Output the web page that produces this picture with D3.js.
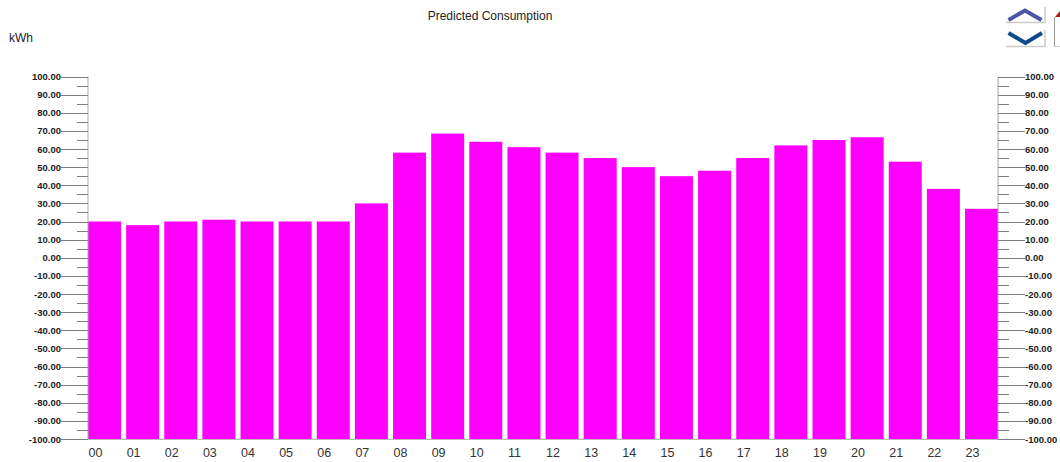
<!DOCTYPE html>
<html lang="en">
<head>
<meta charset="UTF-8">
<title>Predicted Consumption</title>
<script src="https://d3js.org/d3.v7.min.js"></script>
<style>
    body { margin: 0; background: #fff; overflow: hidden; }
    svg { display: block; font-family: "Liberation Sans", Arial, sans-serif; }
    .tick-label { font-size: 9.5px; font-weight: bold; fill: #222; }
    .hour-label { font-size: 12.5px; fill: #333; }
</style>
</head>
<body>
<svg width="1060" height="462"></svg>
<script>
    const hours = ["00","01","02","03","04","05","06","07","08","09","10","11","12","13","14","15","16","17","18","19","20","21","22","23"];
    const consumption = [20,18,20,21,20,20,20,30,58,68.5,64,61,58,55,50,45,48,55,62,65,66.5,53,38,27];
    const majorTicks = [100,90,80,70,60,50,40,30,20,10,0,-10,-20,-30,-40,-50,-60,-70,-80,-90,-100];
    const minorTicks = [95,85,75,65,55,45,35,25,15,5,-5,-15,-25,-35,-45,-55,-65,-75,-85,-95];

    const svg = d3.select("svg");
    const plotLeft = 88, plotRight = 998, plotTop = 76.5, plotBottom = 439;

    const x = d3.scaleBand().domain(hours).range([plotLeft, plotRight]).paddingInner(0.135);
    const y = d3.scaleLinear().domain([-100, 100]).range([plotBottom, plotTop]);

    svg.append("text").attr("x", 490).attr("y", 19.5).attr("text-anchor", "middle")
        .style("font-size", "12px").style("fill", "#222").text("Predicted Consumption");
    svg.append("text").attr("x", 9).attr("y", 42)
        .style("font-size", "12px").style("fill", "#222").text("kWh");

    // bars stand on the bottom of the axis, not on zero
    svg.append("g").selectAll("rect").data(consumption).enter().append("rect")
        .attr("x", (d, i) => x(hours[i]))
        .attr("width", x.bandwidth())
        .attr("y", d => y(d))
        .attr("height", d => plotBottom - y(d))
        .attr("fill", "#ff00ff");

    // both side axes
    [[plotLeft, -1], [plotRight, 1]].forEach(([ax, dir]) => {
        const g = svg.append("g").attr("stroke", "#808080").attr("stroke-width", 1);
        g.append("line").attr("x1", ax).attr("x2", ax).attr("y1", plotTop).attr("y2", plotBottom).attr("stroke", "#aaa");
        g.selectAll(".major").data(majorTicks).enter().append("line")
            .attr("x1", ax).attr("x2", ax + dir * 27)
            .attr("y1", d => Math.round(y(d)) + 0.5).attr("y2", d => Math.round(y(d)) + 0.5);
        g.selectAll(".minor").data(minorTicks).enter().append("line")
            .attr("x1", ax).attr("x2", ax + dir * 11)
            .attr("y1", d => Math.round(y(d)) + 0.5).attr("y2", d => Math.round(y(d)) + 0.5);
        svg.append("g").selectAll("text").data(majorTicks).enter().append("text")
            .attr("class", "tick-label")
            .attr("x", ax + dir * 27)
            .attr("y", d => y(d) + 3.5)
            .attr("text-anchor", dir < 0 ? "end" : "start")
            .text(d => d.toFixed(2));
    });

    svg.append("line").attr("x1", plotLeft).attr("x2", plotRight).attr("y1", plotBottom + 0.5).attr("y2", plotBottom + 0.5)
        .attr("stroke", "#bbb");

    svg.append("g").selectAll("text").data(hours).enter().append("text")
        .attr("class", "hour-label")
        .attr("x", d => x(d) + 0.5)
        .attr("y", 457)
        .text(d => d);

    // scroll buttons top right
    const btn = svg.append("g");
    btn.append("path").attr("d", "M1006 22.5H1045V7").attr("fill", "none").attr("stroke", "#ccc").attr("stroke-width", 1.5);
    btn.append("path").attr("d", "M1006 46.5H1045V30").attr("fill", "none").attr("stroke", "#ccc").attr("stroke-width", 1.5);
    btn.append("path").attr("d", "M1008.5 20L1025 10.5L1041.5 20").attr("fill", "none").attr("stroke", "#4a55a8").attr("stroke-width", 4);
    btn.append("path").attr("d", "M1008.5 33L1025.5 43L1042 33").attr("fill", "none").attr("stroke", "#0f4a8c").attr("stroke-width", 4);
    btn.append("path").attr("d", "M1055 17L1060 11V17Z").attr("fill", "#a02020");
    btn.append("path").attr("d", "M1054.5 17V46").attr("stroke", "#999").attr("fill", "none");
    btn.append("path").attr("d", "M1054 46.5H1060").attr("stroke", "#ccc").attr("fill", "none");
</script>
</body>
</html>
